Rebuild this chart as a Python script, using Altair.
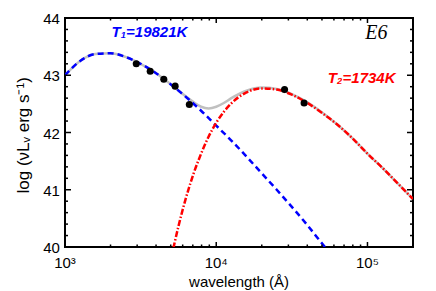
import altair as alt
import pandas as pd

# ---- data ----
wl_blue = [1000, 1259, 1585, 1995, 2512, 3162, 3981, 5012, 6310, 7943, 10000,
           12589, 15849, 19953, 25119, 31623, 39811, 50119, 63096]
lum_blue = [43.00, 43.25, 43.37, 43.385, 43.32, 43.20, 43.04, 42.84, 42.62, 42.38, 42.12,
            41.86, 41.58, 41.29, 41.00, 40.70, 40.39, 40.06, 39.74]

wl_red = [5012, 5248, 5623, 6310, 7079, 7943, 8913, 10000, 11220, 12589, 15849, 19953,
          25119, 31623, 39811, 50119, 63096, 79433, 100000, 125893, 158489, 199526]
lum_red = [39.78, 40.02, 40.36, 40.86, 41.28, 41.63, 41.93, 42.17, 42.36, 42.51, 42.70, 42.77,
           42.75, 42.66, 42.52, 42.34, 42.14, 41.90, 41.63, 41.38, 41.11, 40.84]

wl_sum = [1000, 1259, 1585, 1995, 2512, 3162, 3981, 5012, 6310, 7079, 7943, 8913, 10000,
          11220, 12589, 15849, 19953, 25119, 31623, 39811, 50119, 63096, 79433, 100000,
          125893, 158489, 199526]
lum_sum = [43.00, 43.25, 43.37, 43.385, 43.32, 43.20, 43.04, 42.84, 42.63, 42.53, 42.45, 42.42,
           42.45, 42.515, 42.60, 42.73, 42.785, 42.76, 42.67, 42.53, 42.35, 42.14, 41.90, 41.63,
           41.38, 41.11, 40.84]

wl_obs = [2960, 3660, 4500, 5350, 6640, 28300, 38100]
lum_obs = [43.20, 43.07, 42.93, 42.81, 42.49, 42.75, 42.515]

# axis ticks and labels
x_major = [10000, 100000]
x_minor = [2000, 3000, 4000, 5000, 6000, 7000, 8000, 9000,
           20000, 30000, 40000, 50000, 60000, 70000, 80000, 90000]
y_major = [41, 42, 43]
y_minor = [40.2, 40.4, 40.6, 40.8, 41.2, 41.4, 41.6, 41.8,
           42.2, 42.4, 42.6, 42.8, 43.2, 43.4, 43.6, 43.8]
x_label_vals = [1000, 10000, 100000]
x_label_txt = ["10³", "10⁴", "10⁵"]
y_label_vals = [40, 41, 42, 43, 44]
y_label_txt = ["40", "41", "42", "43", "44"]
x_title = "wavelength (Å)"
y_title = "log (νLᵥ erg s⁻¹)"

t1_label = ["T₁=19821K"]
t1_pos = [3620, 43.755]
t2_label = ["T₂=1734K"]
t2_pos = [91400, 42.95]
e_label = ["E6"]
e_pos = [114500, 43.73]

W, H = 348, 229
FONT = "Liberation Sans"
X_LO, X_HI = 1000, 200000
Y_LO, Y_HI = 40, 44
# where guide texts sit, in axis units
XLAB_Y = 39.715
YLAB_X = 925
XTITLE_POS = [14160, 39.38]
YTITLE_POS = [537, 41.95]

xs = alt.Scale(type="log", domain=[X_LO, X_HI], nice=False)
ys = alt.Scale(domain=[Y_LO, Y_HI], nice=False, zero=False)

df_sum = pd.DataFrame({"wl": wl_sum, "lum": lum_sum})
df_blue = pd.DataFrame({"wl": wl_blue, "lum": lum_blue})
df_red = pd.DataFrame({"wl": wl_red, "lum": lum_red})
df_obs = pd.DataFrame({"wl": wl_obs, "lum": lum_obs})

X = lambda: alt.X("wl:Q", scale=xs, axis=None)
Y = lambda: alt.Y("lum:Q", scale=ys, axis=None)

gray = alt.Chart(df_sum).mark_line(color="#c0c0c0", strokeWidth=2.5, clip=True,
                                   interpolate="monotone").encode(x=X(), y=Y())

blue = alt.Chart(df_blue).mark_line(color="#0000ff", strokeWidth=2.5, strokeDash=[6, 4],
                                    clip=True, interpolate="monotone").encode(x=X(), y=Y())

red = alt.Chart(df_red).mark_line(color="#ff0000", strokeWidth=2.5, strokeDash=[6, 2, 1.5, 2],
                                  clip=True, interpolate="monotone").encode(x=X(), y=Y())

pts = alt.Chart(df_obs).mark_circle(color="black", size=50, opacity=1).encode(x=X(), y=Y())

# inward tick marks on all four sides
tick_layers = []
for vals, size in [(x_major, 5), (x_minor, 2.5)]:
    d = pd.DataFrame({"v": vals})
    for y0, y1 in [(H, H - size), (0, size)]:
        tick_layers.append(alt.Chart(d).mark_rule(color="black", strokeWidth=1.5).encode(
            x=alt.X("v:Q", scale=xs, axis=None),
            y=alt.value(y0), y2=alt.value(y1)))
for vals, size in [(y_major, 6), (y_minor, 3)]:
    d = pd.DataFrame({"v": vals})
    for x0, x1 in [(0, size), (W, W - size)]:
        tick_layers.append(alt.Chart(d).mark_rule(color="black", strokeWidth=1.5).encode(
            y=alt.Y("v:Q", scale=ys, axis=None),
            x=alt.value(x0), x2=alt.value(x1)))

# guide texts (tick labels and axis titles)
df_xl = pd.DataFrame({"wl": x_label_vals, "lum": [XLAB_Y] * 3, "txt": x_label_txt})
df_yl = pd.DataFrame({"wl": [YLAB_X] * 5, "lum": y_label_vals, "txt": y_label_txt})
xl = alt.Chart(df_xl).mark_text(font=FONT, fontSize=15, color="black",
                                align="center", baseline="middle").encode(
    x=X(), y=Y(), text="txt:N")
yl = alt.Chart(df_yl).mark_text(font=FONT, fontSize=15, color="black",
                                align="right", baseline="middle", dy=1).encode(
    x=X(), y=Y(), text="txt:N")
df_xtt = pd.DataFrame({"wl": [XTITLE_POS[0]], "lum": [XTITLE_POS[1]], "txt": [x_title]})
df_ytt = pd.DataFrame({"wl": [YTITLE_POS[0]], "lum": [YTITLE_POS[1]], "txt": [y_title]})
xtt = alt.Chart(df_xtt).mark_text(font=FONT, fontSize=15, color="black",
                                  align="center", baseline="middle").encode(
    x=X(), y=Y(), text="txt:N")
ytt = alt.Chart(df_ytt).mark_text(font=FONT, fontSize=17, color="black", angle=270,
                                  align="center", baseline="middle").encode(
    x=X(), y=Y(), text="txt:N")

txt_layers = []
for lab, pos, col, fnt, fs, fw in [(t1_label, t1_pos, "#0000ff", FONT, 15, "bold"),
                                   (t2_label, t2_pos, "#ff0000", FONT, 15, "bold"),
                                   (e_label, e_pos, "black", "Liberation Serif", 20, "normal")]:
    df = pd.DataFrame({"wl": [pos[0]], "lum": [pos[1]], "txt": lab})
    txt_layers.append(alt.Chart(df).mark_text(
        color=col, font=fnt, fontSize=fs, fontWeight=fw, fontStyle="italic",
        align="center", baseline="middle").encode(x=X(), y=Y(), text="txt:N"))

chart = alt.layer(gray, blue, red, pts, *txt_layers, *tick_layers,
                  xl, yl, xtt, ytt).properties(
    width=W, height=H,
    autosize=alt.AutoSizeParams(type="none"),
    padding={"left": 57, "top": 10, "right": 15, "bottom": 44},
    background="white",
).configure_view(stroke="black", strokeWidth=2)

chart.save("out.html", embed_options={"renderer": "svg", "actions": False})
